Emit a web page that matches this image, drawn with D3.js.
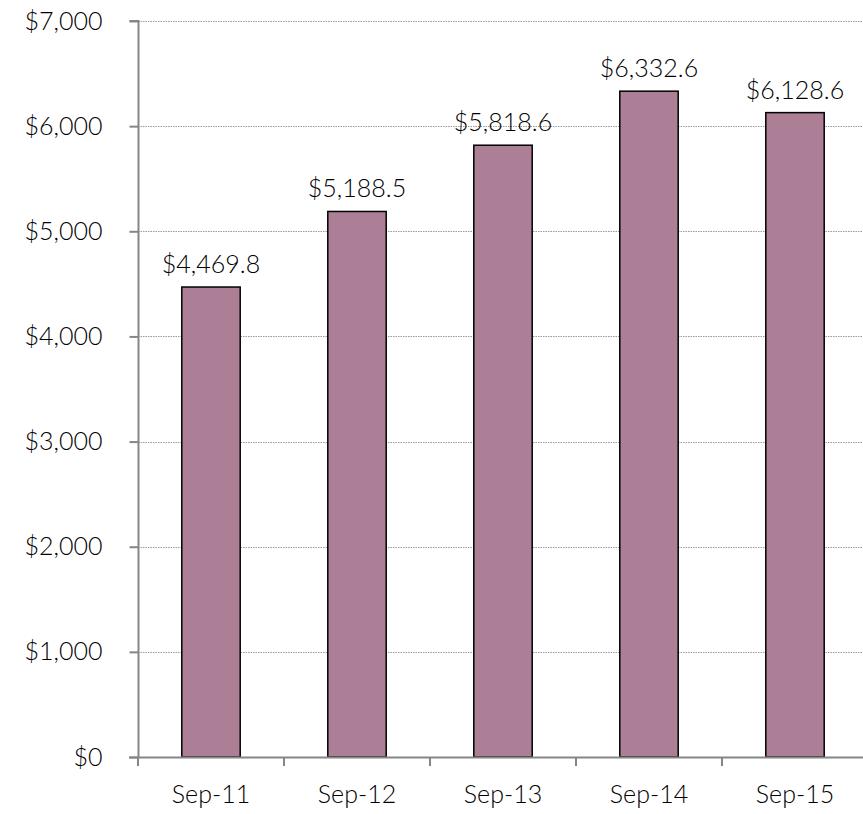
<!DOCTYPE html>
<html>
<head>
<meta charset="utf-8">
<script src="https://cdn.jsdelivr.net/npm/d3@7"></script>
<style>
  html, body { margin: 0; padding: 0; background: #fff; }
  svg text { font-family: Lato, "Open Sans", sans-serif; font-weight: 300; fill: #000; }
</style>
</head>
<body>
<div id="chart"></div>
<script>
const categories = ['Sep-11', 'Sep-12', 'Sep-13', 'Sep-14', 'Sep-15'];
const values = [4469.8, 5188.5, 5818.6, 6332.6, 6128.6];
const yTicks = [0, 1000, 2000, 3000, 4000, 5000, 6000, 7000];

const BAR_COLOR = '#ad7f97';
const AXIS_COLOR = '#868686';
const FONT_SIZE = 25;

const width = 863;
const height = 814;
const margin = { top: 21, right: -5, bottom: 57, left: 138 };

const svg = d3.select('#chart')
  .append('svg')
  .attr('width', width)
  .attr('height', height);

const x = d3.scaleBand()
  .domain(categories)
  .range([margin.left, width - margin.right])
  .paddingInner(0.6)
  .paddingOuter(0.3);

const y = d3.scaleLinear()
  .domain([0, 7000])
  .range([height - margin.bottom, margin.top]);

// gridlines
svg.append('g')
  .selectAll('line')
  .data(yTicks.filter((d) => d > 0))
  .enter()
  .append('line')
  .attr('x1', margin.left)
  .attr('x2', width)
  .attr('y1', (d) => Math.round(y(d)) + 0.5)
  .attr('y2', (d) => Math.round(y(d)) + 0.5)
  .attr('stroke', '#9a9a9a')
  .attr('stroke-width', 1)
  .attr('stroke-dasharray', '1.5,1');

// bars
svg.selectAll('.bar')
  .data(values)
  .enter()
  .append('rect')
  .attr('class', 'bar')
  .attr('x', (_, i) => x(categories[i]))
  .attr('y', (d) => y(d))
  .attr('width', x.bandwidth())
  .attr('height', (d) => y(0) - y(d))
  .attr('fill', BAR_COLOR)
  .attr('stroke', '#000')
  .attr('stroke-width', 1.5);

// value labels
svg.selectAll('.val')
  .data(values)
  .enter()
  .append('text')
  .attr('class', 'val')
  .attr('x', (_, i) => x(categories[i]) + x.bandwidth() / 2)
  .attr('y', (d) => y(d) - 14)
  .attr('text-anchor', 'middle')
  .attr('font-size', FONT_SIZE)
  .text((d) => '$' + d3.format(',.1f')(d));

// y axis
const yAxis = svg.append('g')
  .attr('transform', `translate(${margin.left + 0.5},0)`)
  .call(d3.axisLeft(y).tickValues(yTicks).tickSize(9).tickPadding(27)
    .tickFormat((v) => '$' + d3.format(',')(v)));
yAxis.select('.domain').attr('stroke', AXIS_COLOR).attr('stroke-width', 2)
  .attr('d', `M-9,${y(7000)}H0V${y(0)}`);
yAxis.selectAll('.tick line').attr('stroke', AXIS_COLOR).attr('stroke-width', 2);
yAxis.selectAll('.tick text').attr('font-size', FONT_SIZE);

// x axis
const xAxis = svg.append('g')
  .attr('transform', `translate(0,${y(0) + 0.5})`)
  .call(d3.axisBottom(x).tickSize(0).tickPadding(28));
xAxis.select('.domain').attr('stroke', AXIS_COLOR).attr('stroke-width', 2)
  .attr('d', `M${margin.left - 9},0H${width}`);
xAxis.selectAll('.tick text').attr('font-size', FONT_SIZE);

// x tick marks at band boundaries
svg.append('g')
  .selectAll('line')
  .data(categories)
  .enter()
  .append('line')
  .attr('x1', (d) => x(d) - x.step() * 0.3)
  .attr('x2', (d) => x(d) - x.step() * 0.3)
  .attr('y1', y(0))
  .attr('y2', y(0) + 9)
  .attr('stroke', AXIS_COLOR)
  .attr('stroke-width', 2);
</script>
</body>
</html>
